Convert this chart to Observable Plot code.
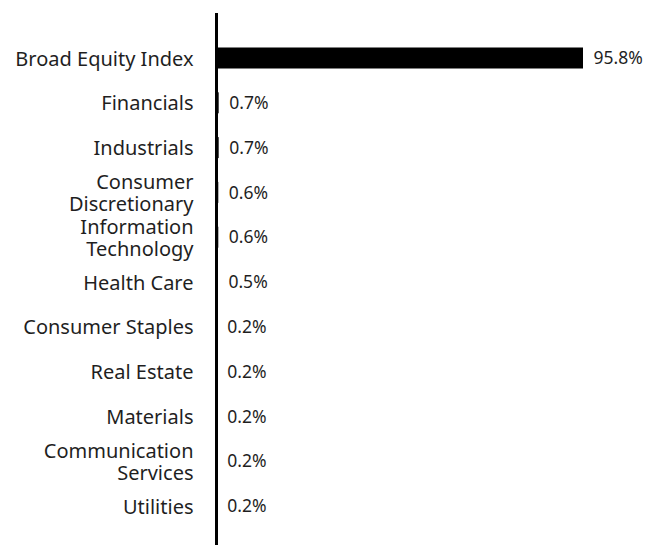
<!DOCTYPE html>
<html>
<head>
<meta charset="utf-8">
<script src="https://cdn.jsdelivr.net/npm/d3@7"></script>
<script src="https://cdn.jsdelivr.net/npm/@observablehq/plot@0.6"></script>
<style>
  html, body { margin: 0; padding: 0; background: #fff; }
  #chart svg { display: block; }
</style>
</head>
<body>
<div id="chart"></div>
<script>
const categories = [
  "Broad Equity Index",
  "Financials",
  "Industrials",
  "Consumer\nDiscretionary",
  "Information\nTechnology",
  "Health Care",
  "Consumer Staples",
  "Real Estate",
  "Materials",
  "Communication\nServices",
  "Utilities"
];
const values = [95.8, 0.7, 0.7, 0.6, 0.6, 0.5, 0.2, 0.2, 0.2, 0.2, 0.2];
const valueLabels = ["95.8%", "0.7%", "0.7%", "0.6%", "0.6%", "0.5%", "0.2%", "0.2%", "0.2%", "0.2%", "0.2%"];

const data = categories.map((c, i) => ({category: c, value: values[i], label: valueLabels[i]}));

const font = "'Noto Sans', 'Open Sans', sans-serif";

const chart = Plot.plot({
  width: 649,
  height: 545,
  marginLeft: 216,
  marginRight: 66,
  marginTop: 35.6,
  marginBottom: 16.6,
  style: {fontFamily: font, background: "#fff"},
  x: {domain: [0, 95.8], axis: null},
  y: {domain: categories, padding: 0, round: false, axis: null},
  marks: [
    Plot.barX(data, {x: "value", y: "category", fill: "#000", insetTop: 11.9, insetBottom: 11.9}),
    Plot.text(data, {
      x: 0, y: "category", text: "category",
      textAnchor: "end", dx: -23, fontSize: 20, lineHeight: 1.12, fill: "#1f1f1f"
    }),
    Plot.text(data, {
      x: "value", y: "category", text: "label",
      textAnchor: "start", dx: 10, fontSize: 17.5, fill: "#1f1f1f"
    }),
    Plot.ruleX([0], {stroke: "#000", strokeWidth: 3, insetTop: -22.6, insetBottom: -16.6})
  ]
});
document.getElementById("chart").appendChild(chart);
</script>
</body>
</html>
